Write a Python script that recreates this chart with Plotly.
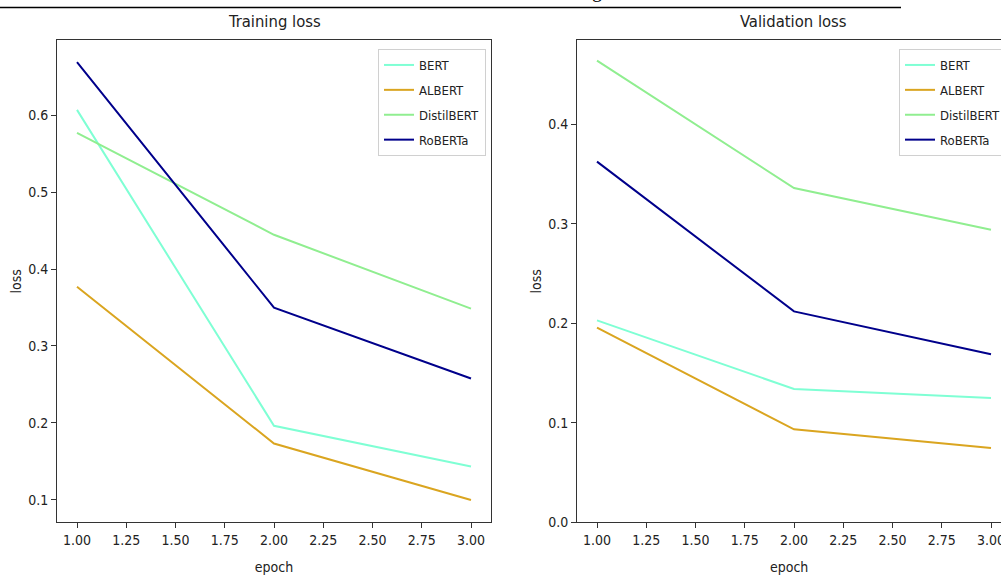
import plotly.graph_objects as go

epochs = [1, 2, 3]
models = ["BERT", "ALBERT", "DistilBERT", "RoBERTa"]
colors = {"BERT": "#7fffd4", "ALBERT": "#daa520", "DistilBERT": "#90ee90", "RoBERTa": "#00008b"}

train_bert = [0.607, 0.196, 0.143]
train_albert = [0.377, 0.173, 0.0995]
train_distil = [0.577, 0.4445, 0.3485]
train_roberta = [0.669, 0.3497, 0.2575]

val_bert = [0.203, 0.134, 0.125]
val_albert = [0.1956, 0.0935, 0.0746]
val_distil = [0.464, 0.336, 0.294]
val_roberta = [0.3625, 0.212, 0.169]

train = {"BERT": train_bert, "ALBERT": train_albert, "DistilBERT": train_distil, "RoBERTa": train_roberta}
val = {"BERT": val_bert, "ALBERT": val_albert, "DistilBERT": val_distil, "RoBERTa": val_roberta}

x_ticks = [1.0, 1.25, 1.5, 1.75, 2.0, 2.25, 2.5, 2.75, 3.0]
x_ticktext = ["1.00", "1.25", "1.50", "1.75", "2.00", "2.25", "2.50", "2.75", "3.00"]

FONT = "DejaVu Sans Condensed, Liberation Sans Narrow, DejaVu Sans, sans-serif"
W, H = 1001, 575

fig = go.Figure()
for m in models:
    fig.add_trace(go.Scatter(x=epochs, y=train[m], mode="lines", name=m,
                             line=dict(color=colors[m], width=2),
                             xaxis="x", yaxis="y", legend="legend", legendgroup="t_" + m))
for m in models:
    fig.add_trace(go.Scatter(x=epochs, y=val[m], mode="lines", name=m,
                             line=dict(color=colors[m], width=2),
                             xaxis="x2", yaxis="y2", legend="legend2", legendgroup="v_" + m))

def px_x(p):
    return p / W

def px_y(p):
    return (H - p) / H

ydom = [px_y(522.3), px_y(40.3)]
axis_common = dict(showline=True, linecolor="#333333", linewidth=1.2, ticks="outside",
                   ticklen=5, tickcolor="#333333", showgrid=False, zeroline=False,
                   automargin=False, ticklabeloverflow="allow",
                   tickfont=dict(family=FONT, size=14, color="#222222"),
                   title_font=dict(family=FONT, size=14, color="#222222"))

legend_common = dict(xanchor="left", yanchor="top", y=px_y(49),
                     bgcolor="rgba(255,255,255,0.8)", bordercolor="#d0d0d0", borderwidth=1,
                     tracegroupgap=5, traceorder="grouped",
                     font=dict(family=FONT, size=13, color="#222222"))

fig.update_layout(
    width=W, height=H, margin=dict(l=0, r=0, t=0, b=0, autoexpand=False),
    paper_bgcolor="white", plot_bgcolor="white",
    font=dict(family=FONT, size=14, color="#222222"),
    xaxis=dict(domain=[px_x(57.3), px_x(490.7)], range=[0.9, 3.1], tickvals=x_ticks,
               ticktext=x_ticktext, mirror=True, anchor="y",
               title=dict(text="epoch", standoff=14), **axis_common),
    yaxis=dict(domain=ydom, range=[0.0705, 0.6975], tickvals=[0.1, 0.2, 0.3, 0.4, 0.5, 0.6],
               ticktext=["0.1", "0.2", "0.3", "0.4", "0.5", "0.6"], mirror=True, anchor="x",
               title=dict(text="loss", standoff=3), **axis_common),
    xaxis2=dict(domain=[px_x(577.3), 1.0], range=[0.9, 0.9 + (W - 577.3) / 197.0],
                tickvals=x_ticks, ticktext=x_ticktext, mirror=True, anchor="y2",
                title=dict(text="epoch", standoff=14), **axis_common),
    yaxis2=dict(domain=ydom, range=[0.0, 0.4845], tickvals=[0.0, 0.1, 0.2, 0.3, 0.4],
                ticktext=["0.0", "0.1", "0.2", "0.3", "0.4"], mirror=False, anchor="x2",
                title=dict(text="loss", standoff=3), **axis_common),
    legend=dict(x=px_x(378), **legend_common),
    legend2=dict(x=px_x(899), **legend_common),
    annotations=[
        dict(text="Training loss", x=px_x(274), y=px_y(22), xref="paper", yref="paper",
             showarrow=False, xanchor="center", yanchor="middle",
             font=dict(family=FONT, size=16.5, color="#222222")),
        dict(text="Validation loss", x=px_x(793), y=px_y(22), xref="paper", yref="paper",
             showarrow=False, xanchor="center", yanchor="middle",
             font=dict(family=FONT, size=16.5, color="#222222")),
        dict(text="g", x=px_x(597), y=px_y(3.5), xref="paper", yref="paper",
             showarrow=False, xanchor="center", yanchor="bottom",
             font=dict(family="Liberation Serif, serif", size=20, color="black")),
    ],
    shapes=[
        dict(type="line", xref="paper", yref="paper", x0=0, x1=px_x(901), y0=px_y(7.5), y1=px_y(7.5),
             line=dict(color="black", width=1.5)),
    ],
)

fig.write_html("out.html")
